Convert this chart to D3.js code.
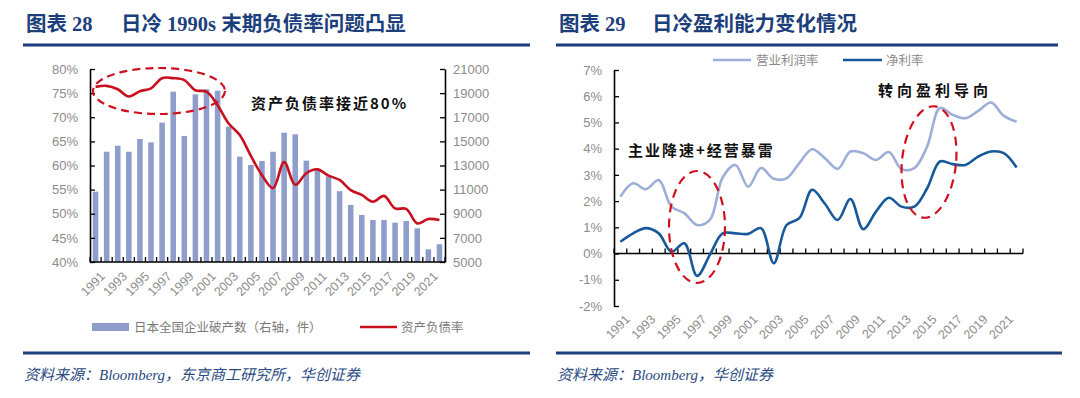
<!DOCTYPE html>
<html lang="zh">
<head>
    <meta charset="UTF-8" />
    <title>日冷 负债率与盈利能力</title>
    <script src="https://cdn.jsdelivr.net/npm/d3@7/dist/d3.min.js"></script>
    <style>
        body {
            margin: 0;
            background: #fff;
            overflow: hidden;
        }
        .tick text {
            font-family: "Liberation Sans", Arial, sans-serif;
            fill: #8c8c8c;
        }
        .cjk {
            font-family: "Noto Sans CJK SC", sans-serif;
        }
    </style>
</head>
<body>
<svg id="chart" width="1080" height="398"></svg>
<script>
    // categories
    const years = ["1991", "1992", "1993", "1994", "1995", "1996", "1997", "1998", "1999", "2000",
        "2001", "2002", "2003", "2004", "2005", "2006", "2007", "2008", "2009", "2010",
        "2011", "2012", "2013", "2014", "2015", "2016", "2017", "2018", "2019", "2020",
        "2021", "2022"];
    const yearLabels = ["1991", "1993", "1995", "1997", "1999", "2001", "2003", "2005", "2007",
        "2009", "2011", "2013", "2015", "2017", "2019", "2021"];

    // 图表28: 日本全国企业破产数（件，右轴）
    const bankruptcies = [10830, 14140, 14640, 14140, 15200, 14920, 16550, 19120, 15450, 18900,
        19320, 19200, 16220, 13730, 13040, 13370, 14140, 15720, 15590, 13400,
        12700, 12100, 10870, 9730, 8900, 8480, 8480, 8260, 8400, 7790,
        6050, 6470];
    // 图表28: 资产负债率（%，左轴）
    const debtRatio = [76.3, 76.5, 75.8, 74.3, 75.4, 76.0, 78.1, 78.1, 77.7, 75.6,
        75.3, 72.5, 68.7, 66.3, 62.0, 58.0, 55.3, 60.7, 56.0, 58.4,
        59.2, 57.9, 57.0, 54.9, 53.9, 52.5, 53.7, 51.1, 51.0, 48.0,
        48.9, 48.7];
    const leftTicksPct = [40, 45, 50, 55, 60, 65, 70, 75, 80];
    const rightTicksCount = [5000, 7000, 9000, 11000, 13000, 15000, 17000, 19000, 21000];

    // 图表29: 营业利润率 / 净利率（%）
    const opMargin = [2.17, 2.68, 2.45, 2.80, 1.79, 1.54, 1.09, 1.28, 2.90, 3.38,
        2.55, 3.26, 2.85, 2.87, 3.45, 3.98, 3.64, 3.23, 3.89, 3.83,
        3.57, 3.87, 3.22, 3.26, 4.08, 5.55, 5.29, 5.16, 5.44, 5.76,
        5.25, 5.03];
    const netMargin = [0.45, 0.77, 0.97, 0.77, 0.07, 0.39, -0.85, -0.05, 0.77, 0.77,
        0.75, 0.97, -0.37, 1.09, 1.35, 2.43, 1.90, 1.28, 2.08, 0.93,
        1.60, 2.13, 1.79, 1.79, 2.49, 3.51, 3.41, 3.38, 3.70, 3.89,
        3.83, 3.28];
    const marginTicks = [-2, -1, 0, 1, 2, 3, 4, 5, 6, 7];

    const navy = "#1c3f7c";
    const red = "#c8101e";
    const barColor = "#8e9dca";
    const lightBlue = "#9dafd8";
    const darkBlue = "#17599a";
    const gray = "#8c8c8c";

    const svg = d3.select("#chart");

    // ---------- headers / footers ----------
    function header(x0, x1, num, text, textX) {
        svg.append("text")
            .attr("x", x0 + 3).attr("y", 31)
            .attr("fill", navy)
            .style("font-family", "'Liberation Serif', 'Noto Sans CJK SC', serif")
            .style("font-weight", "bold")
            .style("font-size", "20.5px")
            .text("图表 " + num);
        svg.append("text")
            .attr("x", textX).attr("y", 31)
            .attr("fill", navy)
            .style("font-family", "'Liberation Serif', 'Noto Sans CJK SC', serif")
            .style("font-weight", "bold")
            .style("font-size", "20.5px")
            .text(text);
        svg.append("line")
            .attr("x1", x0).attr("x2", x1)
            .attr("y1", 45).attr("y2", 45)
            .attr("stroke", navy).attr("stroke-width", 3);
    }

    function footer(x0, x1, text) {
        svg.append("line")
            .attr("x1", x0).attr("x2", x1)
            .attr("y1", 353).attr("y2", 353)
            .attr("stroke", navy).attr("stroke-width", 3);
        svg.append("text")
            .attr("x", x0 + 1).attr("y", 380)
            .attr("fill", "#2a4a82")
            .style("font-family", "'Liberation Serif', 'Noto Sans CJK SC', serif")
            .style("font-style", "italic")
            .style("font-size", "15px")
            .text(text);
    }

    header(23, 530, "28", "日冷 1990s 末期负债率问题凸显", 121);
    header(556, 1058, "29", "日冷盈利能力变化情况", 652);
    footer(23, 530, "资料来源：Bloomberg，东京商工研究所，华创证券");
    footer(556, 1062, "资料来源：Bloomberg，华创证券");

    // ---------- 图表28 ----------
    const L = { left: 90, right: 445, top: 69, bottom: 262 };

    const xL = d3.scaleBand()
        .domain(years)
        .range([L.left, L.right])
        .paddingInner(0.5)
        .paddingOuter(0.25);
    const yPct = d3.scaleLinear().domain([40, 80]).range([L.bottom, L.top]);
    const yCnt = d3.scaleLinear().domain([5000, 21000]).range([L.bottom, L.top]);

    const g1 = svg.append("g");

    g1.selectAll(".bar")
        .data(years)
        .enter().append("rect")
        .attr("class", "bar")
        .attr("x", d => xL(d))
        .attr("width", xL.bandwidth())
        .attr("y", (d, i) => yCnt(bankruptcies[i]))
        .attr("height", (d, i) => L.bottom - yCnt(bankruptcies[i]))
        .attr("fill", barColor);

    const axL = g1.append("g")
        .attr("transform", `translate(${L.left},0)`)
        .call(d3.axisLeft(yPct).tickValues(leftTicksPct).tickFormat(d => d + "%")
            .tickSize(-5).tickSizeOuter(0).tickPadding(12));
    const axR = g1.append("g")
        .attr("transform", `translate(${L.right},0)`)
        .call(d3.axisRight(yCnt).tickValues(rightTicksCount).tickFormat(d => d)
            .tickSize(-5).tickSizeOuter(0).tickPadding(8));
    [axL, axR].forEach(a => {
        a.select(".domain").attr("stroke", "#000").attr("stroke-width", 1.6);
        a.selectAll(".tick line").attr("stroke", "#000").attr("stroke-width", 1.3);
        a.selectAll(".tick text").style("font-size", "13px").attr("fill", gray);
    });

    // x axis with ticks between categories
    const stepL = xL.step();
    g1.append("line")
        .attr("x1", L.left).attr("x2", L.right)
        .attr("y1", L.bottom).attr("y2", L.bottom)
        .attr("stroke", "#000").attr("stroke-width", 1.6);
    g1.selectAll(".xtick")
        .data(d3.range(years.length + 1))
        .enter().append("line")
        .attr("x1", i => L.left + i * stepL).attr("x2", i => L.left + i * stepL)
        .attr("y1", L.bottom).attr("y2", L.bottom - 5)
        .attr("stroke", "#000").attr("stroke-width", 1.3);
    g1.selectAll(".xlab")
        .data(yearLabels)
        .enter().append("text")
        .attr("transform", d => `translate(${xL(d) + xL.bandwidth() / 2 + 4},${L.bottom + 9}) rotate(-45)`)
        .attr("text-anchor", "end")
        .attr("dy", "0.7em")
        .attr("fill", gray)
        .style("font-family", "'Liberation Sans', Arial, sans-serif")
        .style("font-size", "12.5px")
        .text(d => d);

    const lineL = d3.line()
        .x((d, i) => xL(years[i]) + xL.bandwidth() / 2)
        .y(d => yPct(d))
        .curve(d3.curveCatmullRom.alpha(0.5));
    g1.append("path")
        .datum(debtRatio)
        .attr("d", lineL)
        .attr("fill", "none")
        .attr("stroke", red)
        .attr("stroke-width", 2.6);

    g1.append("ellipse")
        .attr("cx", 159).attr("cy", 91)
        .attr("rx", 66).attr("ry", 23)
        .attr("fill", "none")
        .attr("stroke", "#d01020")
        .attr("stroke-width", 2.2)
        .attr("stroke-dasharray", "8,5");

    g1.append("text")
        .attr("class", "cjk")
        .attr("x", 251).attr("y", 109)
        .attr("fill", "#111")
        .style("font-weight", "bold")
        .style("font-size", "15px")
        .style("letter-spacing", "2px")
        .text("资产负债率接近80%");

    // legend
    g1.append("rect")
        .attr("x", 92).attr("y", 323).attr("width", 37).attr("height", 8)
        .attr("fill", barColor);
    g1.append("text")
        .attr("class", "cjk")
        .attr("x", 134).attr("y", 332)
        .attr("fill", "#7a7a7a")
        .style("font-size", "12.5px")
        .text("日本全国企业破产数（右轴，件）");
    g1.append("line")
        .attr("x1", 360).attr("x2", 397).attr("y1", 327).attr("y2", 327)
        .attr("stroke", red).attr("stroke-width", 2.6);
    g1.append("text")
        .attr("class", "cjk")
        .attr("x", 401).attr("y", 332)
        .attr("fill", "#7a7a7a")
        .style("font-size", "12.5px")
        .text("资产负债率");

    // ---------- 图表29 ----------
    const R = { left: 614, right: 1023, top: 70, bottom: 306 };

    const xR = d3.scaleBand()
        .domain(years)
        .range([R.left, R.right]);
    const yM = d3.scaleLinear().domain([-2, 7]).range([R.bottom, R.top]);

    const g2 = svg.append("g");

    const axM = g2.append("g")
        .attr("transform", `translate(${R.left},0)`)
        .call(d3.axisLeft(yM).tickValues(marginTicks).tickFormat(d => d + "%")
            .tickSize(-5).tickSizeOuter(0).tickPadding(12));
    axM.select(".domain").attr("stroke", "#000").attr("stroke-width", 1.6);
    axM.selectAll(".tick line").attr("stroke", "#000").attr("stroke-width", 1.3);
    axM.selectAll(".tick text").style("font-size", "13px").attr("fill", gray);

    const y0 = yM(0);
    const stepR = xR.step();
    g2.append("line")
        .attr("x1", R.left).attr("x2", R.right)
        .attr("y1", y0).attr("y2", y0)
        .attr("stroke", "#000").attr("stroke-width", 1.6);
    g2.selectAll(".xtick")
        .data(d3.range(years.length + 1))
        .enter().append("line")
        .attr("x1", i => R.left + i * stepR).attr("x2", i => R.left + i * stepR)
        .attr("y1", y0).attr("y2", y0 - 5)
        .attr("stroke", "#000").attr("stroke-width", 1.3);
    g2.selectAll(".xlab")
        .data(yearLabels)
        .enter().append("text")
        .attr("transform", d => `translate(${xR(d) + xR.bandwidth() / 2 + 4},${R.bottom + 8}) rotate(-45)`)
        .attr("text-anchor", "end")
        .attr("dy", "0.7em")
        .attr("fill", gray)
        .style("font-family", "'Liberation Sans', Arial, sans-serif")
        .style("font-size", "12.5px")
        .text(d => d);

    const lineR = d3.line()
        .x((d, i) => xR(years[i]) + xR.bandwidth() / 2)
        .y(d => yM(d))
        .curve(d3.curveCatmullRom.alpha(0.5));
    g2.append("path")
        .datum(opMargin)
        .attr("d", lineR)
        .attr("fill", "none")
        .attr("stroke", lightBlue)
        .attr("stroke-width", 2.6);
    g2.append("path")
        .datum(netMargin)
        .attr("d", lineR)
        .attr("fill", "none")
        .attr("stroke", darkBlue)
        .attr("stroke-width", 2.6);

    g2.append("ellipse")
        .attr("cx", 697).attr("cy", 227)
        .attr("rx", 28).attr("ry", 56)
        .attr("fill", "none")
        .attr("stroke", "#d01020")
        .attr("stroke-width", 2.2)
        .attr("stroke-dasharray", "9,6");
    g2.append("ellipse")
        .attr("transform", "translate(929,162) rotate(6)")
        .attr("rx", 27).attr("ry", 56)
        .attr("fill", "none")
        .attr("stroke", "#d01020")
        .attr("stroke-width", 2.2)
        .attr("stroke-dasharray", "9,6");

    g2.append("text")
        .attr("class", "cjk")
        .attr("x", 628).attr("y", 156)
        .attr("fill", "#111")
        .style("font-weight", "bold")
        .style("font-size", "15px")
        .style("letter-spacing", "2px")
        .text("主业降速+经营暴雷");
    g2.append("text")
        .attr("class", "cjk")
        .attr("x", 878).attr("y", 96)
        .attr("fill", "#111")
        .style("font-weight", "bold")
        .style("font-size", "15px")
        .style("letter-spacing", "4px")
        .text("转向盈利导向");

    // legend
    g2.append("line")
        .attr("x1", 713).attr("x2", 751).attr("y1", 60).attr("y2", 60)
        .attr("stroke", lightBlue).attr("stroke-width", 2.6);
    g2.append("text")
        .attr("class", "cjk")
        .attr("x", 756).attr("y", 65)
        .attr("fill", "#8a8a8a")
        .style("font-size", "12.5px")
        .text("营业利润率");
    g2.append("line")
        .attr("x1", 843).attr("x2", 882).attr("y1", 60).attr("y2", 60)
        .attr("stroke", darkBlue).attr("stroke-width", 2.6);
    g2.append("text")
        .attr("class", "cjk")
        .attr("x", 886).attr("y", 65)
        .attr("fill", "#8a8a8a")
        .style("font-size", "12.5px")
        .text("净利率");
</script>
</body>
</html>
